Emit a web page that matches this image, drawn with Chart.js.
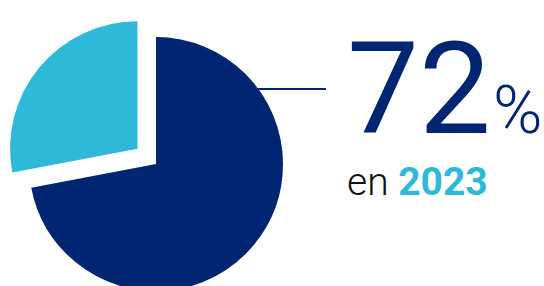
<!DOCTYPE html>
<html>
<head>
<meta charset="utf-8">
<script src="https://cdn.jsdelivr.net/npm/chart.js@4.4.1/dist/chart.umd.min.js"></script>
<style>
  html, body { margin: 0; padding: 0; width: 544px; height: 286px; overflow: hidden; background: #fff; }
  #wrap { position: absolute; left: 0; top: 0; width: 312px; height: 328px; z-index: 2; }
  #rule { position: absolute; left: 220px; top: 88px; width: 106px; height: 2px; background: #002673; z-index: 1; }
  .big { position: absolute; left: 347px; top: 25px; font-family: Roboto, sans-serif; font-weight: 400; color: #002673; line-height: 1; white-space: nowrap; }
  .big .num { font-size: 128px; }
  .big .pct { font-size: 67px; font-weight: 300; margin-left: 2px; }
  .sub { position: absolute; left: 347px; top: 163px; font-family: Roboto, sans-serif; font-size: 39px; line-height: 1; color: #111; font-weight: 300; white-space: nowrap; }
  .sub b { color: #2eb9d8; font-weight: 700; }
</style>
</head>
<body>
<div id="rule"></div>
<div id="wrap"><canvas id="c"></canvas></div>
<div class="big"><span class="num">72</span><span class="pct">%</span></div>
<div class="sub">en <b>2023</b></div>
<script>
const categories = ["2023", "Reste"];
const values = [72, 28];
const colors = ["#002673", "#2eb9d8"];

new Chart(document.getElementById('c'), {
  type: 'pie',
  data: {
    labels: categories,
    datasets: [{
      data: values,
      backgroundColor: colors,
      borderWidth: 0,
      offset: [0, 96],
      hoverOffset: 0,
      radius: 127
    }]
  },
  options: {
    responsive: true,
    maintainAspectRatio: false,
    animation: false,
    events: [],
    layout: { padding: 0 },
    plugins: { legend: { display: false }, tooltip: { enabled: false } }
  }
});
</script>
</body>
</html>
